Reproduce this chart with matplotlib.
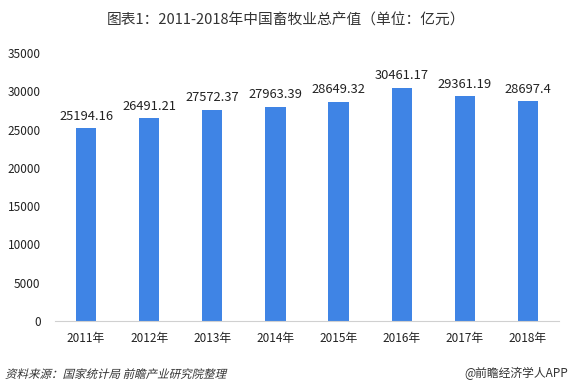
import matplotlib.pyplot as plt
from matplotlib.textpath import TextPath
from matplotlib.patches import PathPatch
from matplotlib.font_manager import FontProperties
from matplotlib.transforms import Affine2D

plt.rcParams['font.family'] = ['Noto Sans CJK SC', 'DejaVu Sans']

years = ['2011年', '2012年', '2013年', '2014年', '2015年', '2016年', '2017年', '2018年']
values = [25194.16, 26491.21, 27572.37, 27963.39, 28649.32, 30461.17, 29361.19, 28697.4]
value_labels = ['25194.16', '26491.21', '27572.37', '27963.39', '28649.32', '30461.17', '29361.19', '28697.4']
yticks = [0, 5000, 10000, 15000, 20000, 25000, 30000, 35000]
source = '资料来源：国家统计局 前瞻产业研究院整理'

fig = plt.figure(figsize=(5.72, 3.92), dpi=100)
ax = fig.add_axes([0.0953, 0.181, 0.8827, 0.684])

x = range(len(years))
bars = ax.bar(x, values, width=0.32, color='#3F84E5')
for b, lab in zip(bars, value_labels):
    ax.text(b.get_x() + b.get_width() / 2, b.get_height() + 700, lab,
            ha='center', va='bottom', fontsize=9.3, color='#222222')

ax.set_xlim(-0.5, len(years) - 0.5)
ax.set_ylim(0, 35000)
ax.set_yticks(yticks)
ax.set_yticklabels([str(t) for t in yticks], fontsize=8.5, color='#222222')
ax.set_xticks(list(x))
ax.set_xticklabels(years, fontsize=8.5, color='#222222')
ax.tick_params(axis='both', length=0, pad=8)
ax.tick_params(axis='y', pad=10)
for s in ['top', 'right', 'left']:
    ax.spines[s].set_visible(False)
ax.spines['bottom'].set_color('#d0d0d0')

fig.text(0.5, 0.949, '图表1：2011-2018年中国畜牧业总产值（单位：亿元）',
         ha='center', va='center', fontsize=10.6, color='#333333')

# the CJK font has no italic, so slant the outline by hand
tp = TextPath((0, 0), source, size=11.5, prop=FontProperties(family='Noto Sans CJK SC'))
patch = PathPatch(tp, transform=Affine2D().skew_deg(14, 0).translate(5, 14),
                  facecolor='#333333', edgecolor='none')
fig.add_artist(patch)

fig.text(0.993, 0.048, '@前瞻经济学人APP',
         ha='right', va='center', fontsize=8.5, color='#333333')

fig.savefig('out.png', dpi=100)
